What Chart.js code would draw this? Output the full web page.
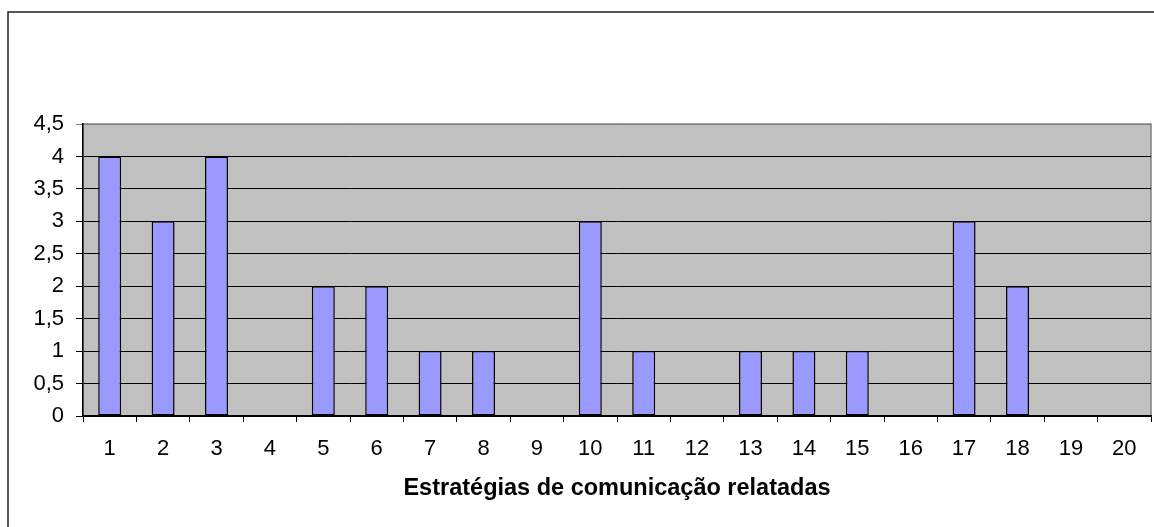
<!DOCTYPE html>
<html>
<head>
    <title>Estratégias de comunicação relatadas</title>
    <script src="https://cdn.jsdelivr.net/npm/chart.js"></script>
    <style>
        html, body { margin: 0; padding: 0; background: #fff; overflow: hidden; }
        #wrap { position: relative; width: 1154px; height: 527px; }
    </style>
</head>
<body>
    <div id="wrap">
        <canvas id="chart" width="1154" height="527"></canvas>
    </div>

    <script>
        // data
        const categories = ['1', '2', '3', '4', '5', '6', '7', '8', '9', '10',
                            '11', '12', '13', '14', '15', '16', '17', '18', '19', '20'];
        const counts = [4, 3, 4, 0, 2, 2, 1, 1, 0, 3, 1, 0, 1, 1, 1, 0, 3, 2, 0, 0];
        const xTitle = 'Estratégias de comunicação relatadas';
        const yMax = 4.5;
        const yStep = 0.5;

        const fontFamily = 'Arial, "Liberation Sans", sans-serif';

        // gray plot area + the outer frame
        const plotBackground = {
            id: 'plotBackground',
            beforeDraw(chart) {
                const { ctx, chartArea: a } = chart;
                ctx.save();
                ctx.fillStyle = '#c0c0c0';
                ctx.fillRect(a.left, a.top, a.right - a.left, a.bottom - a.top);
                ctx.strokeStyle = '#808080';
                ctx.lineWidth = 1.5;
                ctx.strokeRect(a.left, a.top, a.right - a.left, a.bottom - a.top);
                // frame round the whole chart, runs off right/bottom
                ctx.strokeStyle = '#222';
                ctx.lineWidth = 1.5;
                ctx.strokeRect(8, 12, 1400, 700);
                ctx.restore();
            }
        };

        new Chart(document.getElementById('chart'), {
            type: 'bar',
            data: {
                labels: categories,
                datasets: [{
                    data: counts,
                    backgroundColor: '#9999ff',
                    borderColor: '#000',
                    borderWidth: 1.5,
                    borderSkipped: false,
                    categoryPercentage: 1,
                    barPercentage: 0.43
                }]
            },
            options: {
                responsive: false,
                animation: false,
                layout: { padding: { top: 124, right: 3, left: 0, bottom: 0 } },
                plugins: {
                    legend: { display: false },
                    tooltip: { enabled: false }
                },
                scales: {
                    x: {
                        grid: {
                            offset: true,
                            drawOnChartArea: false,
                            drawTicks: true,
                            tickLength: 6,
                            color: '#000'
                        },
                        border: { color: '#000', width: 1.5 },
                        ticks: {
                            color: '#000',
                            padding: 14,
                            maxRotation: 0,
                            autoSkip: false,
                            font: { family: fontFamily, size: 22 }
                        },
                        title: {
                            display: true,
                            text: xTitle,
                            color: '#000',
                            padding: { top: 0, bottom: 24 },
                            font: { family: fontFamily, size: 23.5, weight: 'bold' }
                        },
                        afterFit(scale) { scale.height = 111; }
                    },
                    y: {
                        min: 0,
                        max: yMax,
                        grid: {
                            color: ctx => (ctx.tick && ctx.tick.value === yMax) ? '#808080' : '#000',
                            lineWidth: 1,
                            tickLength: 7
                        },
                        border: { color: '#000', width: 1.5 },
                        ticks: {
                            stepSize: yStep,
                            color: '#000',
                            padding: 12,
                            font: { family: fontFamily, size: 22 },
                            callback: v => String(v).replace('.', ',')
                        },
                        afterFit(scale) { scale.width = 83; }
                    }
                }
            },
            plugins: [plotBackground]
        });
    </script>
</body>
</html>
